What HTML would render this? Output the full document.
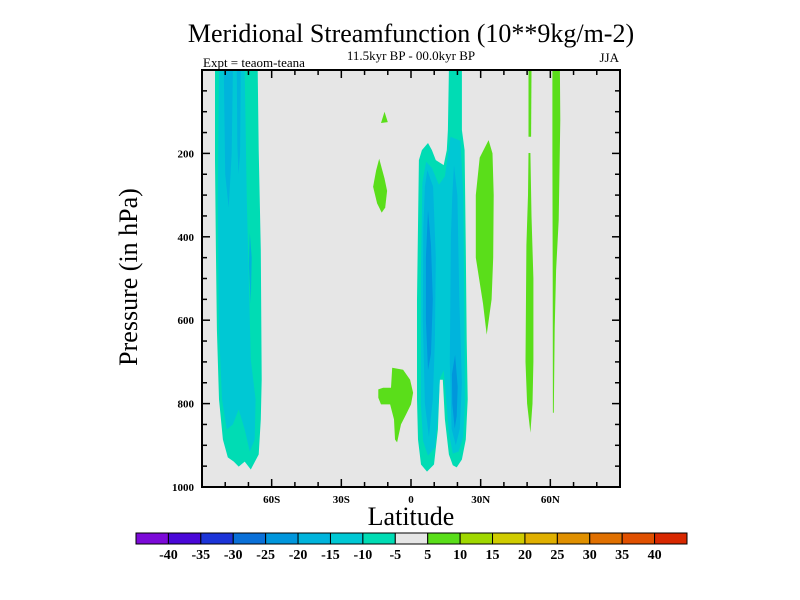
<!DOCTYPE html>
<html><head><meta charset="utf-8">
<style>
html,body{margin:0;padding:0;background:#fff;}
svg{display:block;font-family:"Liberation Serif",serif;}
</style></head>
<body>
<svg id="chart" width="800" height="600" viewBox="0 0 800 600" xmlns="http://www.w3.org/2000/svg">
<rect x="0" y="0" width="800" height="600" fill="#ffffff"/>
<text x="411" y="42" font-size="26" text-anchor="middle">Meridional Streamfunction (10**9kg/m-2)</text>
<text x="411" y="60" font-size="13" text-anchor="middle">11.5kyr BP - 00.0kyr BP</text>
<text x="203" y="67" font-size="13">Expt = teaom-teana</text>
<text x="619" y="62" font-size="13" text-anchor="end">JJA</text>
<text transform="translate(137,277) rotate(-90)" font-size="26" text-anchor="middle">Pressure (in hPa)</text>
<text x="411" y="525" font-size="26" text-anchor="middle">Latitude</text>
<g id="plot"></g>
<g id="cbar"></g>
</svg>
<script>
// ---- data ----
const levelColors = ["#7c0ad8","#4a08d8","#1c34d8","#0a70d8","#0096dc","#00b4dc","#00c8d4","#00dcb4","#e6e6e6","#5ade1a","#a0d800","#d0cc00","#e0b000","#e09000","#e07000","#e05000","#d82800"];
const colorbarLabels = ["-40","-35","-30","-25","-20","-15","-10","-5","5","10","15","20","25","30","35","40"];
const latTicks = [-60,-30,0,30,60];
const latTickLabels = ["60S","30S","0","30N","60N"];
const presTicks = [200,400,600,800,1000];
const presTickLabels = ["200","400","600","800","1000"];
// contour regions: [lat, pressure] pairs; level index into levelColors
const southTeal = [[-84.4,0],[-66,0],[-65.6,192],[-64.7,431],[-64.3,742],[-64.7,838],[-65.6,922],[-69,958],[-71.6,939],[-74.2,951],[-76.3,939],[-78.9,929],[-81,886],[-82.7,790],[-83.6,623],[-84,431],[-84.4,216]];
const southCyan = [[-82.7,0],[-71.6,0],[-70.7,311],[-69,695],[-66.9,790],[-67.3,886],[-69.4,915],[-71.6,862],[-74.2,814],[-76.7,850],[-79.3,862],[-81.4,790],[-82.7,623],[-83.2,311]];
const southBlueA = [[-80.6,0],[-76.7,0],[-77.2,200],[-78.5,330],[-80,250]];
const southBlueB = [[-75,0],[-73.3,0],[-73.6,200],[-74.3,250],[-74.8,180]];
const southBlueC = [[-69.4,390],[-68.6,450],[-69,560],[-69.8,470]];
const eqTeal = [[16.3,0],[21.9,0],[21.9,144],[23.1,192],[23.6,431],[24,647],[24.4,790],[23.6,886],[21.9,934],[19.7,953],[18,948],[16.3,922],[14.6,838],[13.7,743],[12.4,743],[11.6,862],[9.9,946],[6.9,963],[4.3,946],[3,886],[2.6,790],[2.6,551],[3.4,216],[4.7,192],[7.3,175],[9,192],[10.7,216],[14.1,228],[15.4,192],[15.9,144]];
const eqCyan = [[17,160],[21.3,170],[22.5,300],[23,600],[23.2,800],[22.5,880],[20.5,915],[18,920],[16.3,870],[15,780],[14.1,720],[12.4,740],[11.6,830],[10.3,905],[7.3,925],[5.2,890],[4.2,800],[4.2,500],[4.9,270],[6.5,220],[9,235],[12,275],[14.6,255],[16,200]];
const eqLightLeft = [[7,240],[9.5,280],[10.7,450],[10.3,650],[9.4,790],[7.7,880],[6,800],[5.1,600],[5.3,380],[6,280]];
const eqLightRight = [[18.5,228],[20,300],[20.8,550],[21.9,750],[21,860],[19.3,900],[17.5,860],[16.7,700],[17.2,400],[17.8,300]];
const eqBlueLeft = [[7.3,335],[8.6,420],[9.4,550],[8.6,680],[7.3,720],[6.4,600],[6.4,450]];
const eqBlueRight = [[19,683],[20.1,760],[19.7,830],[18.8,860],[17.8,800],[17.6,730]];
const greenSmall = [[-11.4,100],[-10,125],[-12.9,127]];
const greenUpper = [[-13.7,213],[-11.4,260],[-10.3,290],[-11.1,330],[-12.6,342],[-14.6,320],[-16.3,280],[-15,240]];
const greenLower = [[-8.1,714],[-3.4,719],[-0.4,743],[0.9,774],[0,802],[-2.1,826],[-4.3,850],[-6,893],[-6.9,886],[-7.3,838],[-9,802],[-12.9,802],[-14.1,786],[-14.1,766],[-12,762],[-8.6,762]];
const greenBand30N = [[33.4,168],[35.1,200],[35.6,300],[35.4,450],[34.7,550],[32.6,635],[31,560],[27.9,450],[27.9,300],[29.6,210]];
const greenThinTop = [[50.6,0],[51.9,0],[51.7,160],[50.6,160]];
const greenThinLow = [[50.6,199],[51.4,199],[51.9,350],[52.7,500],[52.7,700],[52.3,800],[51.4,870],[50,800],[49.3,700],[49.7,420],[50.4,300]];
const green60N = [[60.9,0],[64.1,0],[64.3,120],[63.6,360],[62.5,480],[61.9,620],[61.5,822],[61.1,822],[61,500],[60.9,200]];
const regions = [
 ["south-teal",southTeal,7],["south-cyan",southCyan,6],["south-blue-a",southBlueA,5],["south-blue-b",southBlueB,5],["south-blue-c",southBlueC,5],
 ["equator-teal",eqTeal,7],["equator-cyan",eqCyan,6],["equator-lightblue-left",eqLightLeft,5],["equator-lightblue-right",eqLightRight,5],
 ["equator-blue-left",eqBlueLeft,4],["equator-blue-right",eqBlueRight,4],
 ["green-small",greenSmall,9],["green-upper",greenUpper,9],["green-lower",greenLower,9],["green-band-30n",greenBand30N,9],
 ["green-thin-top",greenThinTop,9],["green-thin-low",greenThinLow,9],["green-60n",green60N,9]
];
// ---- axes ----
const X0=202, X1=620, Y0=70, Y1=487;
const xs = lat => 411 + lat*(X1-X0)/180;
const ys = p => Y0 + p*(Y1-Y0)/1000;
const NS="http://www.w3.org/2000/svg";
const plot=document.getElementById('plot');
function mk(tag,attrs,parent){const e=document.createElementNS(NS,tag);for(const k in attrs)e.setAttribute(k,attrs[k]);parent.appendChild(e);return e;}
const bg=mk('rect',{x:X0,y:Y0,width:X1-X0,height:Y1-Y0,fill:"#e6e6e6"},plot);


const clip=mk('clipPath',{id:'pc'},plot);mk('rect',{x:X0,y:Y0,width:X1-X0,height:Y1-Y0},clip);
const cg=mk('g',{'clip-path':'url(#pc)'},plot);


regions.forEach(r=>{
  const pts=r[1].map(d=>xs(d[0]).toFixed(1)+","+ys(d[1]).toFixed(1)).join(" ");
  const pg=mk('polygon',{points:pts,fill:levelColors[r[2]]},cg);
  
  
});
const frame=mk('rect',{x:X0,y:Y0,width:X1-X0,height:Y1-Y0,fill:"none",stroke:"#000","stroke-width":2},plot);


for(let l=-80;l<=80;l+=10){
  const major=(l%30===0);const len=major?8:5;const x=xs(l);
  const t1=mk('line',{x1:x,y1:Y1,x2:x,y2:Y1-len,stroke:"#000","stroke-width":1.5},plot);
  
  
  const t2=mk('line',{x1:x,y1:Y0,x2:x,y2:Y0+len,stroke:"#000","stroke-width":1.5},plot);
  
  
}
latTicks.forEach((l,i)=>{
  const t=mk('text',{x:xs(l),y:Y1+16,'font-size':11,'font-weight':'bold','text-anchor':'middle'},plot);t.textContent=latTickLabels[i];
  
  
});
for(let p=50;p<1000;p+=50){
  const major=(p%200===0);const len=major?8:5;const y=ys(p);
  const t1=mk('line',{x1:X0,y1:y,x2:X0+len,y2:y,stroke:"#000","stroke-width":1.5},plot);
  
  
  const t2=mk('line',{x1:X1,y1:y,x2:X1-len,y2:y,stroke:"#000","stroke-width":1.5},plot);
  
  
}
presTicks.forEach((p,i)=>{
  const t=mk('text',{x:X0-8,y:ys(p)+4,'font-size':11,'font-weight':'bold','text-anchor':'end'},plot);t.textContent=presTickLabels[i];
  
  
});
const cb=document.getElementById('cbar');
const CX0=136, CX1=687, CY=533, CH=11;const bw=(CX1-CX0)/levelColors.length;
levelColors.forEach((c,i)=>{
  const r=mk('rect',{x:CX0+i*bw,y:CY,width:bw,height:CH,fill:c,stroke:"#000","stroke-width":1},cb);
  
  
});
colorbarLabels.forEach((s,i)=>{
  const t=mk('text',{x:CX0+(i+1)*bw,y:CY+26,'font-size':14,'font-weight':'bold','text-anchor':'middle'},cb);t.textContent=s;
  
  
});
</script>
</body></html>
